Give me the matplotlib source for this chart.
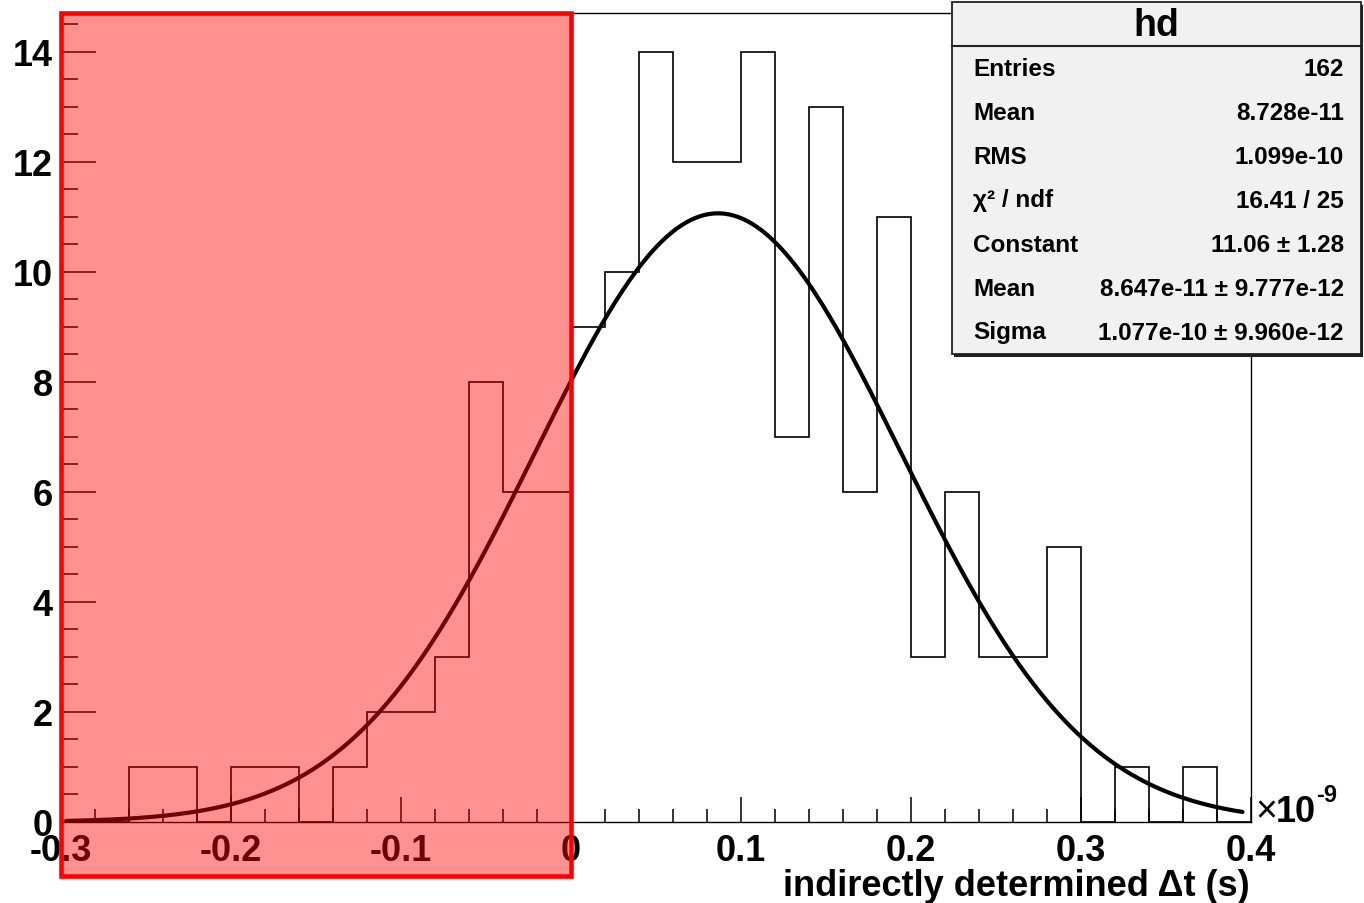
import numpy as np
import matplotlib
matplotlib.use('Agg')
import matplotlib.pyplot as plt
from matplotlib.patches import Rectangle
from matplotlib.lines import Line2D
from matplotlib.ticker import MultipleLocator
from matplotlib.transforms import blended_transform_factory

plt.rcParams['font.family'] = ['Liberation Sans', 'DejaVu Sans']
plt.rcParams['font.weight'] = 'bold'

# histogram "hd": 35 bins of 0.02e-9 s from -0.3e-9 to 0.4e-9 (x in units of 1e-9 s)
bin_edges = np.round(np.arange(-0.30, 0.4001, 0.02), 2)
counts = [0, 0, 1, 1, 0, 1, 1, 0, 1, 2, 2, 3, 8, 6, 6,
          9, 10, 14, 12, 12, 14, 7, 13, 6, 11, 3, 6, 3, 3, 5,
          0, 1, 0, 1, 0]

# gaus fit result
fit_const, fit_const_err = 11.06, 1.28
fit_mean, fit_mean_err = 8.647e-11, 9.777e-12
fit_sigma, fit_sigma_err = 1.077e-10, 9.960e-12
chi2, ndf = 16.41, 25
hist_mean, hist_rms = 8.728e-11, 1.099e-10

# region marked in red
shade_lo, shade_hi = -0.3, 0.0

W, H = 1364, 904
fig = plt.figure(figsize=(W / 100, H / 100), dpi=100)
fig.patch.set_facecolor('white')


def fx(px):
    return px / W


def fy(py):
    return 1 - py / H


ax = fig.add_axes([fx(61), fy(823), (1251 - 61) / W, (823 - 14) / H])

ax.stairs(counts, bin_edges, color='black', lw=1.2, baseline=0)

xs = np.linspace(-0.297, 0.395, 500)
gaus = fit_const * np.exp(-0.5 * ((xs * 1e-9 - fit_mean) / fit_sigma) ** 2)
ax.plot(xs, gaus, color='black', lw=3.0, solid_capstyle='round')

ax.set_xlim(-0.3, 0.4)
ax.set_ylim(0, max(counts) * 1.05)

ax.xaxis.set_major_locator(MultipleLocator(0.1))
ax.xaxis.set_minor_locator(MultipleLocator(0.02))
ax.yaxis.set_major_locator(MultipleLocator(2))
ax.yaxis.set_minor_locator(MultipleLocator(0.5))
ax.xaxis.set_major_formatter(lambda v, p: '0' if abs(v) < 1e-9 else f'{v:.1f}')
ax.yaxis.set_major_formatter(lambda v, p: f'{v:.0f}')

ax.tick_params(axis='both', which='both', direction='in', width=1.1,
               labelsize=26, top=False, right=False)
ax.tick_params(axis='y', which='major', length=25, pad=6)
ax.tick_params(axis='y', which='minor', length=12.2)
ax.tick_params(axis='x', which='major', length=18, pad=8)
ax.tick_params(axis='x', which='minor', length=9.4)
for lab in ax.get_xticklabels() + ax.get_yticklabels():
    lab.set_fontweight('bold')
for s in ax.spines.values():
    s.set_linewidth(1.0)

fig.text(fx(1250), fy(887), 'indirectly determined \u0394t (s)', ha='right',
         va='center', fontsize=26, fontweight='bold')

# x10^-9 exponent at the end of the axis
fig.text(fx(1255), fy(822), '\u00d7', ha='left', va='baseline', fontsize=27,
         fontweight='normal')
fig.text(fx(1276), fy(822), '10', ha='left', va='baseline', fontsize=26,
         fontweight='bold')
fig.text(fx(1316), fy(802), '-9', ha='left', va='baseline', fontsize=17,
         fontweight='bold')

# stats box
bx0, by0, bx1, by1 = 952, 3, 1361, 355
fig.add_artist(Rectangle((fx(bx0 + 2), fy(by1 + 3)), (bx1 - bx0) / W, (by1 - by0) / H,
                         transform=fig.transFigure, facecolor='#202020',
                         edgecolor='none', zorder=5))
fig.add_artist(Rectangle((fx(bx0), fy(by1)), (bx1 - bx0) / W, (by1 - by0) / H,
                         transform=fig.transFigure, facecolor='#f1f1f1',
                         edgecolor='#222222', lw=1.3, zorder=6))
fig.add_artist(Line2D([fx(bx0), fx(bx1)], [fy(47), fy(47)], color='#222222',
                      lw=1.5, transform=fig.transFigure, zorder=7))
fig.text(fx((bx0 + bx1) / 2), fy(26), 'hd', ha='center', va='center',
         fontsize=27, fontweight='bold', zorder=8)

stat_names = ['Entries', 'Mean', 'RMS', '\u03c7\u00b2 / ndf', 'Constant', 'Mean', 'Sigma']
stat_values = [
    f'{int(sum(counts))}',
    f'{hist_mean:.3e}',
    f'{hist_rms:.3e}',
    f'{chi2:.2f} / {ndf}',
    f'{fit_const:.2f} \u00b1 {fit_const_err:.2f}',
    f'{fit_mean:.3e} \u00b1 {fit_mean_err:.3e}',
    f'{fit_sigma:.3e} \u00b1 {fit_sigma_err:.3e}',
]
row_h = (by1 - 47) / len(stat_names)
for i, (name, val) in enumerate(zip(stat_names, stat_values)):
    yy = 47 + row_h * (i + 0.5)
    fig.text(fx(973), fy(yy), name, ha='left', va='center', fontsize=17.5,
             fontweight='bold', zorder=8)
    fig.text(fx(1344), fy(yy), val, ha='right', va='center', fontsize=17.5,
             fontweight='bold', zorder=8)

# red band over the negative side, reaching down past the tick labels
band_tr = blended_transform_factory(ax.transData, fig.transFigure)
fig.add_artist(Rectangle((shade_lo, fy(877)), shade_hi - shade_lo, fy(14) - fy(877),
                         transform=band_tr, facecolor=(1, 0, 0, 0.43),
                         edgecolor=(1, 0, 0), lw=3.3, zorder=10))

fig.savefig('out.png', dpi=100)
